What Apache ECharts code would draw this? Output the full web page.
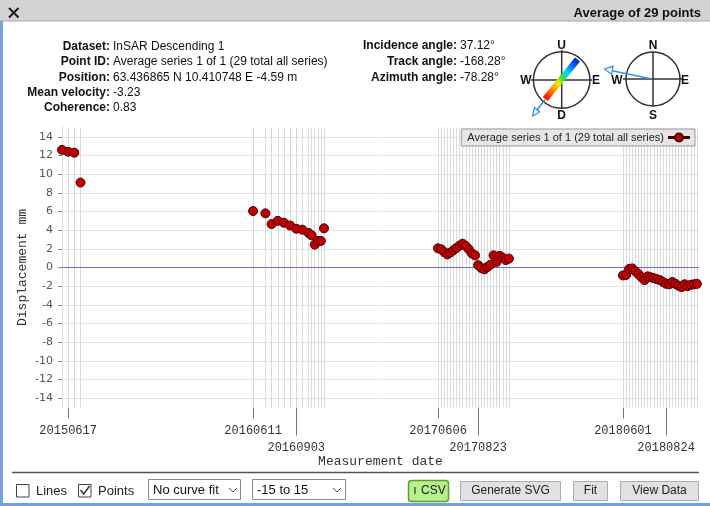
<!DOCTYPE html>
<html><head><meta charset="utf-8">
<script src="https://cdn.jsdelivr.net/npm/echarts@6/dist/echarts.min.js"></script>
<style>html,body{margin:0;padding:0;background:#fff}#c{width:710px;height:506px}</style>
</head><body><div id="c"></div>
<script>
const seriesName = 'Average series 1 of 1 (29 total all series)';
const dates2015 = ['2015-06-05','2015-06-17','2015-06-29','2015-07-11'];
const disp2015 = [12.6, 12.4, 12.3, 9.1];
const dates2016 = ['2016-06-11','2016-07-05','2016-07-17','2016-07-29','2016-08-10','2016-08-22','2016-09-03','2016-09-15','2016-09-27','2016-10-03','2016-10-09','2016-10-15','2016-10-21','2016-10-27'];
const disp2016 = [6.05, 5.8, 4.65, 5.0, 4.8, 4.5, 4.15, 4.05, 3.7, 3.45, 2.45, 2.85, 2.85, 4.2];
const dates2017 = ['2017-06-06','2017-06-12','2017-06-18','2017-06-24','2017-06-30','2017-07-06','2017-07-12','2017-07-18','2017-07-24','2017-07-30','2017-08-05','2017-08-11','2017-08-17','2017-08-23','2017-08-29','2017-09-04','2017-09-10','2017-09-16','2017-09-22','2017-09-28','2017-10-04','2017-10-10','2017-10-16','2017-10-22'];
const disp2017 = [2.05, 1.95, 1.65, 1.4, 1.6, 1.85, 2.1, 2.35, 2.55, 2.3, 1.95, 1.5, 1.3, 0.25, -0.05, -0.2, 0.05, 0.3, 1.3, 0.6, 1.25, 1.05, 0.8, 0.95];
const dates2018 = ['2018-06-01','2018-06-07','2018-06-13','2018-06-19','2018-06-25','2018-07-01','2018-07-07','2018-07-13','2018-07-19','2018-07-25','2018-07-31','2018-08-06','2018-08-12','2018-08-18','2018-08-24','2018-08-30','2018-09-05','2018-09-11','2018-09-17','2018-09-23','2018-09-29','2018-10-05','2018-10-11','2018-10-17','2018-10-23'];
const disp2018 = [-0.85, -0.8, -0.15, -0.1, -0.4, -0.7, -1.05, -1.35, -0.95, -1.05, -1.15, -1.25, -1.35, -1.55, -1.75, -1.8, -1.55, -1.75, -1.95, -2.1, -1.8, -2.0, -1.85, -1.8, -1.75];
const yTicks = [-14, -12, -10, -8, -6, -4, -2, 0, 2, 4, 6, 8, 10, 12, 14];
const xLabelsRow1 = ['2015-06-17', '2016-06-11', '2017-06-06', '2018-06-01'];
const xLabelsRow2 = ['2016-09-03', '2017-08-23', '2018-08-24'];
const xMin = '2015-06-05';
const xMax = '2018-10-27';
const yMin = -15, yMax = 15;

const P = s => echarts.time.parse(s).getTime();
const allDates = dates2015.concat(dates2016, dates2017, dates2018);
const allDisp = disp2015.concat(disp2016, disp2017, disp2018);
const points = allDates.map((d, i) => [P(d), allDisp[i]]);
const fmt = v => { const d = new Date(v); return d.getFullYear() + String(d.getMonth() + 1).padStart(2, '0') + String(d.getDate()).padStart(2, '0'); };

const vLines = allDates.map(d => ({ xAxis: P(d) }));

const SANS = '"Liberation Sans", Arial, sans-serif';
const B12 = 'bold 12px ' + SANS, N12 = '12px ' + SANS;
const txt = (x, y, t, font, align, color) => ({ type: 'text', x: x, y: y, silent: true, style: { text: t, font: font, fill: color || '#111', align: align || 'left', verticalAlign: 'middle' } });
const line = (x1, y1, x2, y2, stroke, w) => ({ type: 'line', silent: true, shape: { x1, y1, x2, y2 }, style: { stroke: stroke, lineWidth: w || 1 } });
const rect = (x, y, w, h, fill, stroke, r) => ({ type: 'rect', silent: true, shape: { x, y, width: w, height: h, r: r || 0 }, style: { fill: fill, stroke: stroke, lineWidth: 1 } });

const infoRows = [46.5, 62, 77.3, 92.3, 107.5];
const g = [
  rect(0, 0, 710, 21, '#d3d3d3', null),
  line(0, 21, 710, 21, '#a8a8a8', 1),
  rect(0, 21, 3, 485, '#74a2d8', null),
  rect(0, 503, 710, 3, '#74a2d8', null),
  line(9, 8, 18.5, 17.5, '#1a1a1a', 2),
  line(18.5, 8, 9, 17.5, '#1a1a1a', 2),
  txt(701, 13, 'Average of 29 points', 'bold 13px ' + SANS, 'right', '#111'),
  txt(110, infoRows[0], 'Dataset:', B12, 'right'), txt(113, infoRows[0], 'InSAR Descending 1', N12),
  txt(110, infoRows[1], 'Point ID:', B12, 'right'), txt(113, infoRows[1], 'Average series 1 of 1 (29 total all series)', N12),
  txt(110, infoRows[2], 'Position:', B12, 'right'), txt(113, infoRows[2], '63.436865 N 10.410748 E -4.59 m', N12),
  txt(110, infoRows[3], 'Mean velocity:', B12, 'right'), txt(113, infoRows[3], '-3.23', N12),
  txt(110, infoRows[4], 'Coherence:', B12, 'right'), txt(113, infoRows[4], '0.83', N12),
  txt(457, 46, 'Incidence angle:', B12, 'right'), txt(460, 46, '37.12°', N12),
  txt(457, 62, 'Track angle:', B12, 'right'), txt(460, 62, '-168.28°', N12),
  txt(457, 78, 'Azimuth angle:', B12, 'right'), txt(460, 78, '-78.28°', N12),
  // compass 1
  { type: 'circle', silent: true, shape: { cx: 561.7, cy: 80, r: 28.3 }, style: { fill: '#fff', stroke: '#333', lineWidth: 1.5 } },
  line(531, 80, 592, 80, '#333', 1.5),
  line(561.7, 50, 561.7, 109, '#333', 1.5),
  { type: 'line', silent: true, shape: { x1: 545.3, y1: 99, x2: 577.5, y2: 59.5 }, style: { lineWidth: 6.5, stroke: new echarts.graphic.LinearGradient(0, 1, 1, 0, [
    { offset: 0, color: '#b00000' }, { offset: 0.12, color: '#ff2000' }, { offset: 0.3, color: '#ffa000' }, { offset: 0.42, color: '#f0f000' },
    { offset: 0.52, color: '#40e040' }, { offset: 0.65, color: '#00d8f0' }, { offset: 0.82, color: '#1050ff' }, { offset: 1, color: '#000080' }]) } },
  line(545, 99.5, 534, 114, '#3d8fe0', 1.5),
  { type: 'polygon', silent: true, shape: { points: [[532.5, 116], [539.5, 112], [534.5, 107.5]] }, style: { fill: '#fff', stroke: '#3d8fe0', lineWidth: 1.3 } },
  txt(561.7, 46, 'U', B12, 'center'), txt(561.7, 116, 'D', B12, 'center'),
  txt(526, 81, 'W', B12, 'center'), txt(596, 81, 'E', B12, 'center'),
  // compass 2
  { type: 'circle', silent: true, shape: { cx: 653, cy: 79, r: 27 }, style: { fill: '#fff', stroke: '#333', lineWidth: 1.5 } },
  line(623, 79, 683, 79, '#333', 1.5),
  line(653, 52, 653, 106, '#333', 1.5),
  line(652, 79, 611, 70.5, '#3d8fe0', 1.5),
  { type: 'polygon', silent: true, shape: { points: [[604.5, 69], [613, 66.3], [611.6, 74.2]] }, style: { fill: '#fff', stroke: '#3d8fe0', lineWidth: 1.3 } },
  txt(653, 45.5, 'N', B12, 'center'), txt(653, 116, 'S', B12, 'center'),
  txt(617, 81, 'W', B12, 'center'), txt(685, 81, 'E', B12, 'center'),
  // toolbar
  line(12, 472.5, 699, 472.5, '#555', 1.5),
  rect(16.5, 484.5, 12.5, 12.5, '#fff', '#444'),
  txt(36, 491.5, 'Lines', '13px ' + SANS, 'left', '#222'),
  rect(78.5, 484.5, 12.5, 12.5, '#fff', '#444'),
  { type: 'polyline', silent: true, shape: { points: [[80.5, 490], [83.8, 494], [89.5, 486]] }, style: { stroke: '#333', lineWidth: 1.5, fill: null } },
  txt(98, 491.5, 'Points', '13px ' + SANS, 'left', '#222'),
  rect(148.5, 479.5, 92, 20, '#fff', '#8a8a8a'),
  txt(153, 490, 'No curve fit', '13px ' + SANS, 'left', '#111'),
  { type: 'polyline', silent: true, shape: { points: [[229, 488], [233, 492], [237, 488]] }, style: { stroke: '#555', lineWidth: 1, fill: null } },
  rect(252.5, 479.5, 93, 20, '#fff', '#8a8a8a'),
  txt(257, 490, '-15 to 15', '13px ' + SANS, 'left', '#111'),
  { type: 'polyline', silent: true, shape: { points: [[333, 488], [337, 492], [341, 488]] }, style: { stroke: '#555', lineWidth: 1, fill: null } },
  { type: 'rect', silent: true, shape: { x: 408.5, y: 480.5, width: 40, height: 21, r: 3 }, style: { fill: '#b9f08e', stroke: '#5e9c2e', lineWidth: 1.5 } },
  line(415, 487, 415, 494, '#333', 1.2),
  txt(421, 491, 'CSV', '12px ' + SANS, 'left', '#222'),
  rect(460.5, 481.5, 100, 19, '#e1e1e1', '#adadad'),
  txt(510.5, 491, 'Generate SVG', '12px ' + SANS, 'center', '#222'),
  rect(573.5, 481.5, 34, 19, '#e1e1e1', '#adadad'),
  txt(590.5, 491, 'Fit', '12px ' + SANS, 'center', '#222'),
  rect(620.5, 481.5, 78, 19, '#e1e1e1', '#adadad'),
  txt(659.5, 491, 'View Data', '12px ' + SANS, 'center', '#222')
];

const MONO = '"Liberation Mono", "DejaVu Sans Mono", monospace';
const chart = echarts.init(document.getElementById('c'), null, { renderer: 'canvas' });
chart.setOption({
  animation: false,
  backgroundColor: '#fff',
  grid: { left: 62, right: 11, top: 127.5, bottom: 98.5, containLabel: false, outerBoundsMode: 'none' },
  legend: {
    data: [seriesName], right: 15, top: 129, align: 'right', orient: 'horizontal',
    icon: 'path://M0,4.5L6,4.5L6,5.5L0,5.5Z M14,4.5L20,4.5L20,5.5L14,5.5Z M10,1A4,4,0,1,1,9.99,1Z',
    itemWidth: 20, itemHeight: 8, backgroundColor: '#e6e6e6', borderColor: '#9a9a9a', borderWidth: 1, borderRadius: 0,
    padding: [3, 5, 3, 6], textStyle: { fontFamily: SANS, fontSize: 11, color: '#222' }, selectedMode: false
  },
  xAxis: [{
    type: 'value', min: P(xMin), max: P(xMax), position: 'bottom', scale: true,
    axisLine: { show: false, onZero: false },
    axisTick: { show: true, customValues: xLabelsRow1.map(P), length: 11, lineStyle: { color: '#777' } },
    axisLabel: { customValues: xLabelsRow1.map(P), formatter: fmt, margin: 17, fontFamily: MONO, fontSize: 12, color: '#333', hideOverlap: false },
    splitLine: { show: false },
    name: 'Measurement date', nameLocation: 'middle', nameGap: 48, nameMoveOverlap: false,
    nameTextStyle: { fontFamily: MONO, fontSize: 13, color: '#333' }
  }, {
    type: 'value', min: P(xMin), max: P(xMax), position: 'bottom', scale: true,
    axisLine: { show: false, onZero: false },
    axisTick: { show: true, customValues: xLabelsRow2.map(P), length: 28, lineStyle: { color: '#777' } },
    axisLabel: { customValues: xLabelsRow2.map(P), formatter: fmt, margin: 34, fontFamily: MONO, fontSize: 12, color: '#333', hideOverlap: false },
    splitLine: { show: false }
  }],
  yAxis: {
    type: 'value', min: yMin, max: yMax,
    axisLine: { show: true, onZero: false, lineStyle: { color: '#f0a8a8', width: 1 } },
    axisTick: { show: true, customValues: yTicks, length: 4, lineStyle: { color: '#888' } },
    axisLabel: { customValues: yTicks, margin: 9, fontFamily: '"DejaVu Sans", sans-serif', fontSize: 11, color: '#555' },
    splitLine: { show: true, lineStyle: { color: '#e4e4e4', width: 1 } },
    name: 'Displacement mm', nameLocation: 'middle', nameGap: 33, nameMoveOverlap: false,
    nameTextStyle: { fontFamily: MONO, fontSize: 13, color: '#333' }
  },
  series: [{
    type: 'scatter', name: 'dateLines', data: [], xAxisIndex: 0, yAxisIndex: 0, z: 1, silent: true,
    markLine: { silent: true, symbol: 'none', z: 1, animation: false, label: { show: false },
      emphasis: { disabled: true }, lineStyle: { type: 'solid', color: '#dadada', width: 1 }, data: vLines }
  }, {
    type: 'scatter', name: 'zeroLine', data: [], xAxisIndex: 0, yAxisIndex: 0, z: 2, silent: true,
    markLine: { silent: true, symbol: 'none', z: 2, animation: false, label: { show: false },
      emphasis: { disabled: true }, lineStyle: { type: 'solid', color: '#6a6ae6', width: 1 }, data: [{ yAxis: 0 }] }
  }, {
    type: 'scatter', name: seriesName, data: points, xAxisIndex: 0, yAxisIndex: 0,
    symbol: 'circle', symbolSize: 9, z: 10,
    itemStyle: { color: '#c00000', borderColor: '#4a0000', borderWidth: 1, opacity: 1 },
    emphasis: { disabled: true }
  }],
  graphic: { elements: g }
});
</script></body></html>
